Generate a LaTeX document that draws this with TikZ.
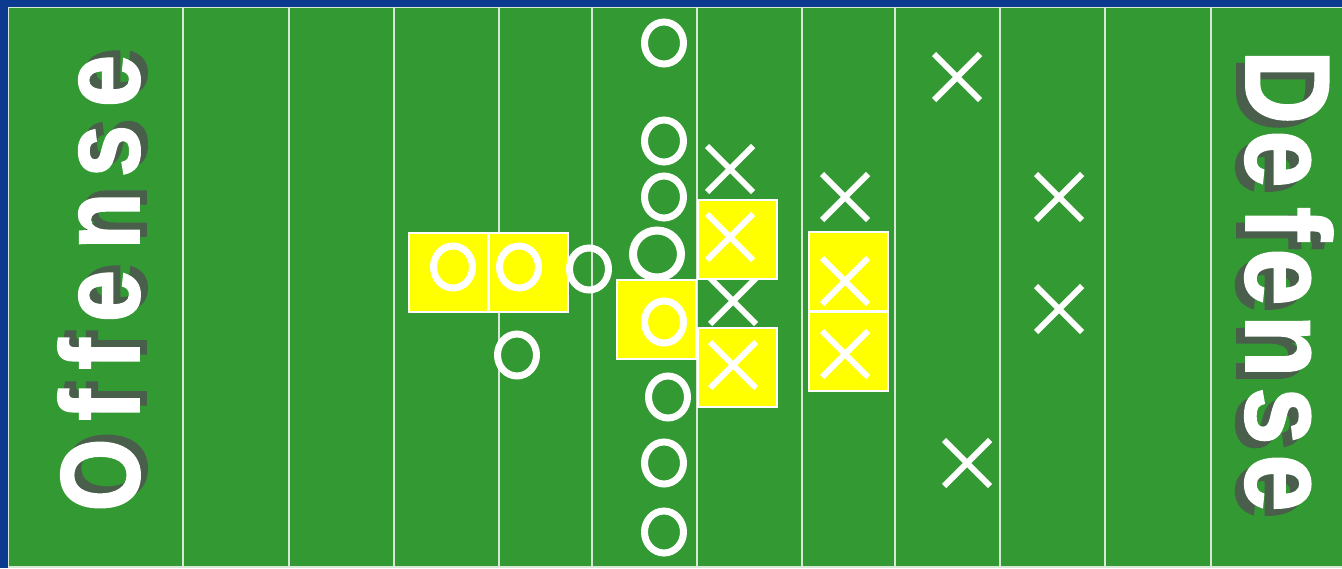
\documentclass[tikz,border=0pt]{standalone}
\usepackage{fontspec}
\usepackage{graphicx}
\setmainfont{Liberation Sans}
\newfontfamily\heavysans{Liberation Sans Bold}[FakeBold=1.6]
\usetikzlibrary{shapes.geometric,shapes.misc}
\definecolor{fieldblue}{RGB}{12,58,142}
\definecolor{turf}{RGB}{51,153,51}
\definecolor{yardline}{RGB}{215,232,215}
\definecolor{hilite}{RGB}{255,255,0}
\definecolor{shade}{RGB}{74,94,76}
\begin{document}
\begin{tikzpicture}[x=1pt,y=-1pt,
  ring/.style={ellipse,draw=white,line width=7pt,minimum width=39pt,minimum height=42pt,inner sep=0pt},
  bigring/.style={ring,line width=8pt,minimum width=48pt,minimum height=47pt},
  xmark/.style={cross out,draw=white,line width=6pt,minimum size=40pt,inner sep=0pt},
  hbox/.style={rectangle,fill=hilite,draw=white,line width=2pt,minimum size=79pt,inner sep=0pt},
  yard/.style={draw=yardline,line width=1.6pt},
  offl/.style={rotate=90,anchor=base,inner sep=0pt,font=\fontsize{112}{112}\selectfont\heavysans},
  defl/.style={rotate=-90,anchor=base,inner sep=0pt,font=\fontsize{120}{120}\selectfont\heavysans},
]
\useasboundingbox (0,0) rectangle (1342,568);
\fill[fieldblue] (0,0) rectangle (1342,568);
\path[fill=turf,yard] (8.5,7.5) rectangle (1352,567);
% yard lines
\foreach \xx [count=\i] in {183,289,394,499,592,697,802,895,1000,1105,1211}{
  \coordinate (yt\i) at (\xx,8.3);
  \coordinate (yb\i) at (\xx,566.2);
  \draw[yard] (yt\i) -- (yb\i);
}
% Offense label
\foreach \ch/\cy [count=\i] in {O/475,f/405,f/354,e/296,n/221,s/151,e/81}{
  \node[offl,text=shade] (offs\i) at (146,\cy-7) {\scalebox{0.84}[1]{\ch}};
}
\foreach \ch/\cy [count=\i] in {O/475,f/405,f/354,e/296,n/221,s/151,e/81}{
  \node[offl,text=white] (off\i) at (139,\cy) {\scalebox{0.84}[1]{\ch}};
}
% Defense label
\foreach \ch/\cy [count=\i] in {D/87,e/159,f/224,e/277,n/346,s/416,e/483}{
  \node[defl,text=shade] (defs\i) at (1237,\cy+7) {\scalebox{0.86}[1]{\ch}};
}
\foreach \ch/\cy [count=\i] in {D/87,e/159,f/224,e/277,n/346,s/416,e/483}{
  \node[defl,text=white] (def\i) at (1246,\cy) {\scalebox{0.86}[1]{\ch}};
}
% markers hidden partly behind boxes
\node[bigring] (c4) at (657,254) {};
\node[xmark] (x6) at (733,301) {};
% highlight boxes
\node[hbox] (b1) at (448.5,272) {};
\node[hbox] (b2) at (528.5,272) {};
\node[hbox] (b3) at (656.5,319.5) {};
\node[hbox] (b4) at (737,239.5) {};
\node[hbox] (b5) at (737,367.5) {};
\node[hbox] (b6) at (848.5,271.5) {};
\node[hbox] (b7) at (848.5,351.5) {};
% offense
\node[ring] (c1) at (664,43) {};
\node[ring] (c2) at (664,141) {};
\node[ring] (c3) at (664,197) {};
\node[ring] (c5) at (664,322) {};
\node[ring] (c6) at (668,397) {};
\node[ring] (c7) at (664,463) {};
\node[ring] (c8) at (664,532) {};
\node[ring] (c9) at (453,267) {};
\node[ring] (c10) at (519,267) {};
\node[ring] (c11) at (589,269) {};
\node[ring] (c12) at (517,355) {};
% defense
\node[xmark] (x1) at (957,77) {};
\node[xmark] (x2) at (730,169) {};
\node[xmark] (x3) at (845,197) {};
\node[xmark] (x4) at (1059,197) {};
\node[xmark] (x5) at (730,237) {};
\node[xmark] (x7) at (845,281) {};
\node[xmark] (x8) at (1059,309) {};
\node[xmark] (x9) at (733,365) {};
\node[xmark] (x10) at (845,354) {};
\node[xmark] (x11) at (967,463) {};
\end{tikzpicture}
\end{document}
